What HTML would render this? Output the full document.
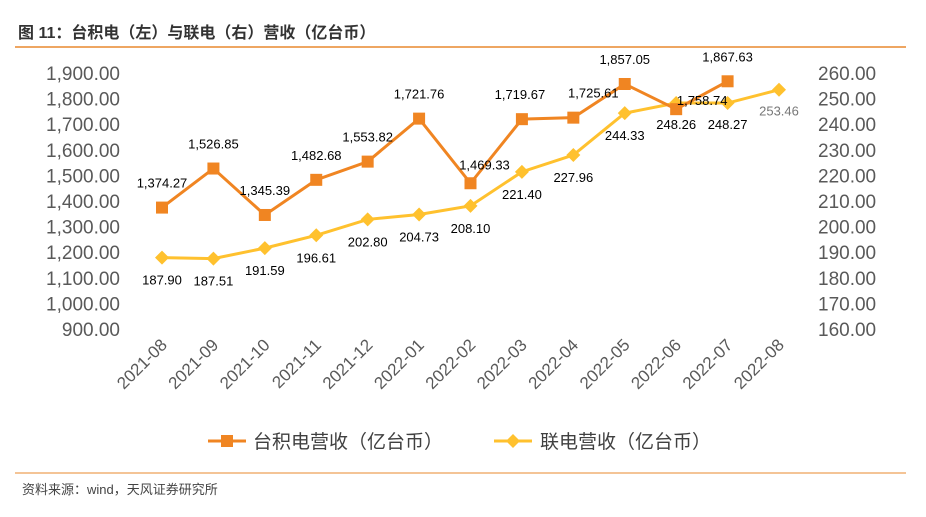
<!DOCTYPE html>
<html><head><meta charset="utf-8"><style>
body{margin:0;background:#fff;}
svg{display:block;font-family:"Liberation Sans","Noto Sans CJK SC",sans-serif;}
</style></head><body>
<svg id="c" width="926" height="517">
<text x="18" y="38" font-size="16" font-weight="bold" fill="#333">图 11：台积电（左）与联电（右）营收（亿台币）</text>
<line x1="15" y1="47" x2="906" y2="47" stroke="#E8892E" stroke-width="1.5"/>
<line x1="15" y1="473" x2="906" y2="473" stroke="#E8892E" stroke-width="1"/>
<text x="22" y="494" font-size="13" fill="#444">资料来源：wind，天风证券研究所</text>
<g id="axes"></g><g id="series"></g>
<g>
<g>
<line x1="208" y1="441" x2="246" y2="441" stroke="#F08522" stroke-width="3"/>
<rect x="221" y="435" width="12" height="12" fill="#F08522"/>
<text x="253" y="448" font-size="19" fill="#404040">台积电营收（亿台币）</text></g>
<g>
<line x1="494" y1="441" x2="532" y2="441" stroke="#FFC12E" stroke-width="3"/>
<polygon points="513,434 520,441 513,448 506,441" fill="#FFC12E"/>
<text x="540" y="448" font-size="19" fill="#404040">联电营收（亿台币）</text></g>
</g>
</svg>
<script>
const categories=["2021-08","2021-09","2021-10","2021-11","2021-12","2022-01","2022-02","2022-03","2022-04","2022-05","2022-06","2022-07","2022-08"];
const tsmcValues=[1374.27,1526.85,1345.39,1482.68,1553.82,1721.76,1469.33,1719.67,1725.61,1857.05,1758.74,1867.63,null];
const umcValues=[187.90,187.51,191.59,196.61,202.80,204.73,208.10,221.40,227.96,244.33,248.26,248.27,253.46];
const leftTicks=[900,1000,1100,1200,1300,1400,1500,1600,1700,1800,1900];
const rightTicks=[160,170,180,190,200,210,220,230,240,250,260];
const NS="http://www.w3.org/2000/svg";
const yL=v=>329-(v-900)*256/1000;
const yR=v=>329-(v-160)*256/100;
const x=i=>162+i*(779-162)/12;
function el(t,a,p){const e=document.createElementNS(NS,t);for(const k in a)e.setAttribute(k,a[k]);p.appendChild(e);return e;}
const ax=document.getElementById('axes'),se=document.getElementById('series');
leftTicks.forEach(v=>{const t=el('text',{x:120,y:yL(v)+7,'text-anchor':'end','font-size':19,fill:'#595959'},ax);t.textContent=v.toLocaleString('en-US',{minimumFractionDigits:2});

});
rightTicks.forEach(v=>{const t=el('text',{x:818,y:yR(v)+7,'font-size':19,fill:'#595959'},ax);t.textContent=v.toFixed(2);

});
categories.forEach((c,i)=>{const t=el('text',{x:x(i)+6,y:346,'text-anchor':'end','font-size':17,fill:'#595959',transform:`rotate(-45 ${x(i)+6} 346)`},ax);t.textContent=c;

});
// UMC
let pts=umcValues.map((v,i)=>x(i)+','+yR(v)).join(' ');
const ul=el('polyline',{points:pts,fill:'none',stroke:'#FFC12E','stroke-width':3},se);


const umcOff=[[0,27],[0,27],[0,27],[0,27],[0,27],[0,27],[0,27],[0,27],[0,27],[0,27],[0,26],[0,26],[0,26]];
umcValues.forEach((v,i)=>{const m=el('polygon',{points:`${x(i)},${yR(v)-7} ${x(i)+7},${yR(v)} ${x(i)},${yR(v)+7} ${x(i)-7},${yR(v)}`,fill:'#FFC12E'},se);


const t=el('text',{x:x(i)+umcOff[i][0],y:yR(v)+umcOff[i][1],'text-anchor':'middle','font-size':13,fill:i==12?'#777':'#000'},se);t.textContent=v.toFixed(2);

});
// TSMC
pts=tsmcValues.map((v,i)=>v==null?null:x(i)+','+yL(v)).filter(Boolean).join(' ');
const tl=el('polyline',{points:pts,fill:'none',stroke:'#F08522','stroke-width':3},se);


const tOff=[[0,-20],[0,-20],[0,-20],[0,-20],[0,-20],[0,-20],[14,-14],[-2,-20],[20,-20],[0,-20],[26,-4],[0,-20]];
tsmcValues.forEach((v,i)=>{if(v==null)return;const m=el('rect',{x:x(i)-6,y:yL(v)-6,width:12,height:12,fill:'#F08522'},se);


const t=el('text',{x:x(i)+tOff[i][0],y:yL(v)+tOff[i][1],'text-anchor':'middle','font-size':13,fill:'#000'},se);t.textContent=v.toLocaleString('en-US',{minimumFractionDigits:2});

});
</script>
</body></html>
